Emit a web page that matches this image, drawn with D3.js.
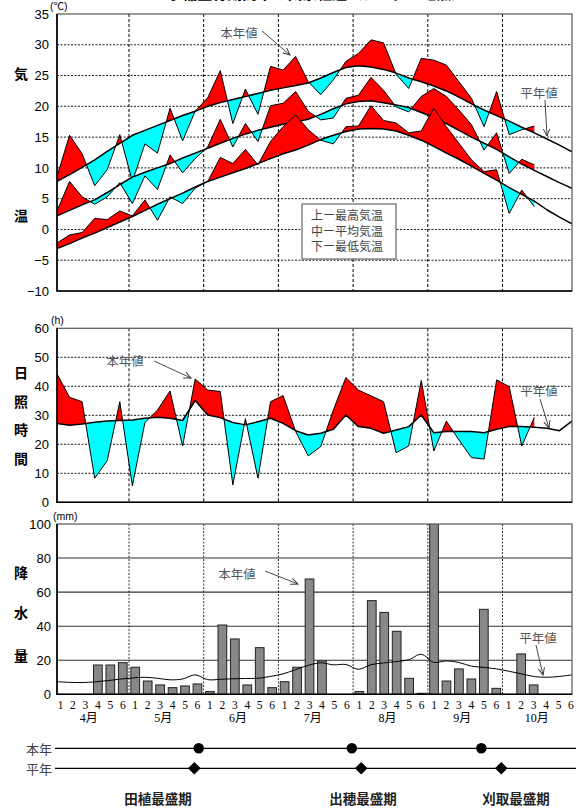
<!DOCTYPE html>
<html>
<head>
<meta charset="utf-8">
<script src="https://cdn.jsdelivr.net/npm/d3@7"></script>
<style>
  body { margin: 0; background: #fff; }
  svg { display: block; font-family: 'Liberation Sans', Arial, 'Noto Sans CJK JP', sans-serif; }
</style>
</head>
<body>
<div id="chart-area"></div>
<script>
//pentads: 6 per month, april to october (42 in all)
let months = ['4月', '5月', '6月', '7月', '8月', '9月', '10月'];
let pentadLabels = ['1', '2', '3', '4', '5', '6'];

//temperature (℃), this year up to oct 3rd pentad, normals for the whole season
let maxNow = [8.6, 15.3, 12.3, 7.1, 9.7, 15.4, 7.8, 13.9, 12.4, 19.7, 14.4, 19.2, 21.4, 25.8, 17.2, 22.8, 18.7, 26.5, 25.9, 28.1,
  24.0, 21.9, 24.3, 27.3, 28.6, 30.8, 30.3, 25.2, 22.9, 27.8, 27.5, 26.7, 24.0, 21.3, 16.7, 22.4, 15.4, 16.2, 16.8];
let maxNormal = [7.8, 8.9, 10.1, 11.3, 12.7, 14.0, 15.3, 16.1, 16.9, 17.7, 18.5, 19.2, 20.0, 20.6, 21.1, 21.6, 22.1, 22.6, 23.0, 23.4,
  23.8, 24.6, 25.5, 26.3, 26.6, 26.4, 26.0, 25.4, 24.6, 24.0, 23.3, 22.5, 21.5, 20.4, 19.4, 18.5, 17.6, 16.6, 15.7, 14.7, 13.7, 12.6];
let meanNow = [3.0, 7.8, 5.3, 4.1, 5.3, 7.6, 4.2, 8.7, 6.5, 12.1, 9.2, 11.5, 13.4, 17.9, 13.4, 17.2, 14.3, 20.1, 20.5, 22.4,
  19.2, 17.8, 18.1, 21.3, 21.8, 24.7, 22.6, 19.9, 19.1, 21.6, 22.9, 21.6, 19.4, 17.0, 12.9, 15.7, 9.1, 11.4, 10.5];
let meanNormal = [2.2, 3.1, 4.0, 4.8, 6.0, 7.3, 8.5, 9.3, 10.0, 10.7, 11.6, 12.4, 13.2, 14.0, 14.8, 15.5, 16.1, 16.6, 17.1, 17.5,
  17.9, 18.7, 19.6, 20.4, 20.8, 20.9, 20.6, 20.2, 19.8, 19.0, 18.2, 17.2, 16.1, 15.0, 14.0, 13.0, 11.8, 10.6, 9.6, 8.6, 7.6, 6.7];
let minNow = [-2.2, -0.9, -0.5, 1.8, 1.6, 3.0, 2.2, 4.8, 1.5, 5.3, 4.2, 6.7, 7.8, 11.7, 10.7, 13.0, 10.5, 14.3, 16.7, 18.6,
  16.2, 14.5, 13.9, 16.7, 16.8, 20.1, 17.7, 17.3, 15.7, 16.0, 19.7, 16.7, 14.0, 11.3, 9.4, 9.7, 2.6, 6.4, 3.7];
let minNormal = [-3.1, -2.3, -1.4, -0.6, 0.3, 1.2, 2.1, 3.1, 4.1, 5.0, 5.9, 6.9, 7.8, 8.5, 9.2, 9.9, 10.7, 11.5, 12.3, 12.9,
  13.7, 14.6, 15.3, 15.9, 16.3, 16.4, 16.3, 16.0, 15.3, 14.5, 13.5, 12.4, 11.4, 10.3, 9.1, 8.0, 6.8, 5.7, 4.6, 3.2, 2.0, 0.9];

//sunshine hours (h)
let sunNow = [44.3, 36.2, 34.7, 8.3, 14.4, 34.7, 5.7, 27.5, 31.8, 38.4, 19.4, 42.5, 38.7, 38.2, 6.0, 28.8, 8.3, 34.7, 36.8, 24.4,
  16.0, 19.2, 31.8, 43.0, 38.7, 36.7, 34.7, 17.1, 19.4, 42.0, 17.7, 28.0, 21.5, 15.4, 14.9, 42.2, 39.9, 19.4, 29.3];
let sunNormal = [27.2, 26.6, 27.0, 27.6, 28.0, 28.2, 28.4, 29.0, 29.3, 29.0, 28.2, 35.1, 30.1, 29.2, 27.5, 26.7, 27.8, 29.0, 27.2, 24.7,
  23.2, 23.8, 25.2, 30.1, 26.1, 25.5, 23.8, 24.9, 26.1, 30.1, 24.0, 24.4, 24.4, 24.4, 24.0, 25.2, 26.1, 26.1, 25.9, 25.5, 24.7, 28.0];

//precipitation (mm), sep 1st pentad is off the scale
let rainNow = [0, 0, 0, 17.2, 17.2, 18.6, 15.9, 7.8, 5.5, 3.9, 4.9, 6.1, 1.6, 40.7, 32.5, 5.5, 27.4, 3.9, 7.4, 15.9,
  67.7, 19.6, 0, 0, 1.6, 55.0, 48.1, 37.0, 9.4, 0.6, 125, 7.8, 14.9, 9.0, 49.9, 3.5, 0, 23.7, 5.5];
let rainNormal = [7.4, 7.0, 6.9, 7.3, 8.0, 8.9, 9.6, 10.0, 9.4, 8.5, 9.0, 11.4, 8.6, 8.8, 9.1, 9.3, 9.4, 10.5, 12.0, 14.5,
  17.0, 18.5, 17.3, 17.5, 14.7, 17.4, 18.4, 19.2, 20.3, 23.5, 18.8, 19.6, 18.7, 16.5, 15.8, 14.9, 13.5, 12.0, 10.4, 10.0, 10.5, 11.4];

//crop stages, as pentad position (0 = apr 1st pentad)
let stageNames = ['田植最盛期', '出穂最盛期', '刈取最盛期'];
let stageNow = [11.1, 23.4, 33.8];
let stageNormal = [10.75, 24.15, 35.4];

let width = 576;
let height = 810;
let left = 57;
let right = 572;
let jp = "'Noto Sans CJK JP', sans-serif";

let svg = d3.select('#chart-area').append('svg').attr('width', width).attr('height', height);
let defs = svg.append('defs');
defs
  .append('marker')
  .attr('id', 'arrow')
  .attr('viewBox', '0 0 10 10')
  .attr('refX', 9)
  .attr('refY', 5)
  .attr('markerWidth', 8)
  .attr('markerHeight', 8)
  .attr('markerUnits', 'userSpaceOnUse')
  .attr('orient', 'auto')
  .append('path')
  .attr('d', 'M0,1 L9,5 L0,9')
  .attr('fill', 'none')
  .attr('stroke', '#333')
  .attr('stroke-width', 1.2);

//x scales: points for lines, bands for the rain columns and month dividers
let xPt = d3.scaleLinear().domain([0, 41]).range([left, right]);
let xCol = d3.scaleBand().domain(d3.range(42)).range([54.3, 577.2]).paddingInner(0.3).paddingOuter(0.15);
let monthEdge = (k) => xCol(0) - (xCol.step() * xCol.paddingInner()) / 2 + k * 6 * xCol.step();
let xMid = (p) => xCol(0) + xCol.bandwidth() / 2 + p * xCol.step();

//title, cut off by the top edge
svg
  .append('text')
  .attr('x', 317)
  .attr('y', -1.5)
  .attr('text-anchor', 'middle')
  .attr('font-family', jp)
  .attr('font-weight', 'bold')
  .attr('font-size', 15)
  .text('水稲生育期間中の気象経過（アメダス地点）');

function makePanel(cfg) {
  let y = d3.scaleLinear().domain(cfg.domain).range([cfg.bottom, cfg.top]);
  let g = svg.append('g');
  let clipId = cfg.id + '-clip';
  defs
    .append('clipPath')
    .attr('id', clipId)
    .append('rect')
    .attr('x', left)
    .attr('y', cfg.top)
    .attr('width', right - left)
    .attr('height', cfg.bottom - cfg.top);

  //horizontal grid
  g.append('g')
    .selectAll('line')
    .data(cfg.ticks.filter((t) => t > cfg.domain[0] && t < cfg.domain[1]))
    .enter()
    .append('line')
    .attr('x1', left)
    .attr('x2', right)
    .attr('y1', (d) => y(d))
    .attr('y2', (d) => y(d))
    .attr('stroke', cfg.solidGrid ? '#333' : '#000')
    .attr('stroke-width', cfg.solidGrid ? 1.1 : 0.9)
    .attr('stroke-dasharray', cfg.solidGrid ? null : '2,1.5');

  //month dividers
  g.append('g')
    .selectAll('line')
    .data(d3.range(1, 7))
    .enter()
    .append('line')
    .attr('x1', (k) => monthEdge(k))
    .attr('x2', (k) => monthEdge(k))
    .attr('y1', cfg.top)
    .attr('y2', cfg.bottom)
    .attr('stroke', '#000')
    .attr('stroke-width', cfg.solidGrid ? 0.8 : 1)
    .attr('stroke-dasharray', cfg.solidGrid ? '2,1.5' : '3,2');

  //y axis labels
  g.append('g')
    .attr('transform', `translate(${left},0)`)
    .call(d3.axisLeft(y).tickValues(cfg.ticks).tickSize(0).tickPadding(cfg.pad || 8))
    .call((a) => a.select('.domain').remove())
    .selectAll('text')
    .attr('font-size', 13)
    .attr('font-family', "'Liberation Sans', Arial, sans-serif")
    .attr('fill', '#000');

  //unit
  g.append('text')
    .attr('x', cfg.unitX)
    .attr('y', cfg.top - 4)
    .attr('font-size', 10.5)
    .attr('fill', '#000')
    .text(cfg.unit);

  //vertical axis title, one character per row
  g.append('g')
    .selectAll('text')
    .data(cfg.title)
    .enter()
    .append('text')
    .attr('x', 21)
    .attr('y', (d, i) => cfg.titleY[i])
    .attr('text-anchor', 'middle')
    .attr('dominant-baseline', 'central')
    .attr('font-family', jp)
    .attr('font-weight', 'bold')
    .attr('font-size', 14)
    .text((d) => d);

  let plot = g.append('g').attr('clip-path', `url(#${clipId})`);
  return { g, plot, y, cfg };
}

function frame(p) {
  let { g, cfg } = p;
  g.append('rect')
    .attr('x', left)
    .attr('y', cfg.top)
    .attr('width', right - left)
    .attr('height', cfg.bottom - cfg.top)
    .attr('fill', 'none')
    .attr('stroke', '#555')
    .attr('stroke-width', 1.2);
  g.append('path')
    .attr('d', `M${left},${cfg.top}V${cfg.bottom}H${right}`)
    .attr('fill', 'none')
    .attr('stroke', '#000')
    .attr('stroke-width', 1.6);
}

//red where this year is above normal, cyan where below
function anomaly(p, now, normal, key) {
  let { plot, y, cfg } = p;
  let idx = d3.range(now.length);
  let all = d3.range(normal.length);
  let between = d3
    .area()
    .x((i) => xPt(i))
    .y0((i) => y(normal[i]))
    .y1((i) => y(now[i]));
  let above = d3
    .area()
    .x((i) => xPt(i))
    .y0(cfg.top - 5)
    .y1((i) => y(normal[i]));
  let below = d3
    .area()
    .x((i) => xPt(i))
    .y0(cfg.bottom + 5)
    .y1((i) => y(normal[i]));
  defs.append('clipPath').attr('id', key + '-up').append('path').attr('d', above(all));
  defs.append('clipPath').attr('id', key + '-dn').append('path').attr('d', below(all));
  plot
    .append('path')
    .attr('d', between(idx))
    .attr('fill', '#ff0000')
    .attr('clip-path', `url(#${key}-up)`);
  plot
    .append('path')
    .attr('d', between(idx))
    .attr('fill', '#00ffff')
    .attr('clip-path', `url(#${key}-dn)`);
  plot
    .append('path')
    .attr('d', d3.line().x((i) => xPt(i)).y((i) => y(now[i]))(idx))
    .attr('fill', 'none')
    .attr('stroke', '#000')
    .attr('stroke-width', 1)
    .attr('stroke-linejoin', 'round');
  plot
    .append('path')
    .attr('d', d3.line().x((i) => xPt(i)).y((i) => y(normal[i]))(all))
    .attr('fill', 'none')
    .attr('stroke', '#000')
    .attr('stroke-width', 1.5)
    .attr('stroke-linejoin', 'round');
}

function note(text, tx, ty, from, to) {
  svg
    .append('text')
    .attr('x', tx)
    .attr('y', ty)
    .attr('text-anchor', 'middle')
    .attr('dominant-baseline', 'central')
    .attr('font-family', jp)
    .attr('font-size', 12.5)
    .attr('fill', '#555')
    .text(text);
  svg
    .append('line')
    .attr('x1', from[0])
    .attr('y1', from[1])
    .attr('x2', to[0])
    .attr('y2', to[1])
    .attr('stroke', '#333')
    .attr('stroke-width', 0.9)
    .attr('marker-end', 'url(#arrow)');
}

//temperature
let temp = makePanel({
  id: 'temp',
  top: 14,
  bottom: 291,
  domain: [-10, 35],
  ticks: d3.range(-10, 36, 5),
  unit: '(℃)',
  unitX: 50,
  title: ['気', '温'],
  titleY: [73, 215],
});
anomaly(temp, maxNow, maxNormal, 'tmax');
anomaly(temp, meanNow, meanNormal, 'tmean');
anomaly(temp, minNow, minNormal, 'tmin');
frame(temp);

//legend box
let legendRows = ['上ー最高気温', '中ー平均気温', '下ー最低気温'];
let legend = svg.append('g').attr('transform', 'translate(302,204)');
legend.append('rect').attr('width', 94).attr('height', 55).attr('fill', '#fff').attr('stroke', '#666').attr('stroke-width', 1.2);
legend
  .selectAll('text')
  .data(legendRows)
  .enter()
  .append('text')
  .attr('x', 9)
  .attr('y', (d, i) => 16 + i * 15.5)
  .attr('font-family', jp)
  .attr('font-size', 12)
  .attr('fill', '#444')
  .text((d) => d);

//sunshine
let sun = makePanel({
  id: 'sun',
  top: 328.3,
  bottom: 502.3,
  domain: [0, 60],
  ticks: d3.range(0, 61, 10),
  unit: '(h)',
  unitX: 51,
  title: ['日', '照', '時', '間'],
  titleY: [372, 401, 429, 458],
});
anomaly(sun, sunNow, sunNormal, 'sun');
frame(sun);

//precipitation
let rain = makePanel({
  id: 'rain',
  top: 524,
  bottom: 694.3,
  domain: [0, 100],
  ticks: d3.range(0, 101, 20),
  unit: '(mm)',
  unitX: 53,
  pad: 6,
  solidGrid: true,
  title: ['降', '水', '量'],
  titleY: [572, 612, 655],
});
rain.plot
  .append('g')
  .selectAll('rect')
  .data(rainNow.map((v, i) => ({ i, v })).filter((d) => d.v > 0))
  .enter()
  .append('rect')
  .attr('x', (d) => xCol(d.i))
  .attr('width', xCol.bandwidth())
  .attr('y', (d) => rain.y(d.v))
  .attr('height', (d) => rain.y(0) - rain.y(d.v))
  .attr('fill', '#888')
  .attr('stroke', '#222')
  .attr('stroke-width', 1);
rain.plot
  .append('path')
  .attr('d', d3.line().x((d, i) => xPt(i)).y((d) => rain.y(d)).curve(d3.curveCatmullRom)(rainNormal))
  .attr('fill', 'none')
  .attr('stroke', '#000')
  .attr('stroke-width', 1);
frame(rain);

//pentad and month labels
svg
  .append('g')
  .selectAll('text')
  .data(d3.range(42))
  .enter()
  .append('text')
  .attr('x', (i) => xCol(i) + xCol.bandwidth() / 2)
  .attr('y', 705)
  .attr('text-anchor', 'middle')
  .attr('dominant-baseline', 'central')
  .attr('font-family', "'Liberation Serif', serif")
  .attr('font-size', 11.5)
  .text((i) => pentadLabels[i % 6]);
svg
  .append('g')
  .selectAll('text')
  .data(months)
  .enter()
  .append('text')
  .attr('x', (d, k) => (monthEdge(k) + monthEdge(k + 1)) / 2 - 3)
  .attr('y', 718)
  .attr('text-anchor', 'middle')
  .attr('dominant-baseline', 'central')
  .attr('font-family', "'Liberation Serif', 'Noto Sans CJK JP', serif")
  .attr('font-size', 12)
  .text((d) => d);

//annotations
note('本年値', 239, 32, [262, 31], [290, 55]);
note('平年値', 539, 92, [545, 100], [547, 136]);
note('本年値', 125, 360, [154, 361], [191, 378]);
note('平年値', 539, 390, [540, 399], [549, 428]);
note('本年値', 237, 573, [265, 571], [298, 584]);
note('平年値', 538, 637, [536, 645], [543, 675]);

//crop stage timeline
let rows = [
  { label: '本年', y: 748.3, pos: stageNow, symbol: d3.symbol(d3.symbolCircle, 88), rotate: 0 },
  { label: '平年', y: 768.3, pos: stageNormal, symbol: d3.symbol(d3.symbolSquare, 80), rotate: 45 },
];
let timeline = svg.append('g');
rows.forEach((row) => {
  timeline
    .append('line')
    .attr('x1', 55)
    .attr('x2', width)
    .attr('y1', row.y)
    .attr('y2', row.y)
    .attr('stroke', '#000')
    .attr('stroke-width', 1.3);
  timeline
    .append('text')
    .attr('x', 52)
    .attr('y', row.y)
    .attr('text-anchor', 'end')
    .attr('dominant-baseline', 'central')
    .attr('font-family', jp)
    .attr('font-size', 13)
    .attr('fill', '#444')
    .text(row.label);
  timeline
    .append('g')
    .selectAll('path')
    .data(row.pos)
    .enter()
    .append('path')
    .attr('d', row.symbol)
    .attr('transform', (d) => `translate(${xMid(d)},${row.y}) rotate(${row.rotate})`)
    .attr('fill', '#000');
});
let stageLabelX = [158, 363, 516];
timeline
  .append('g')
  .selectAll('text')
  .data(stageNames)
  .enter()
  .append('text')
  .attr('x', (d, i) => stageLabelX[i])
  .attr('y', 798)
  .attr('text-anchor', 'middle')
  .attr('dominant-baseline', 'central')
  .attr('font-family', jp)
  .attr('font-weight', 'bold')
  .attr('font-size', 13.5)
  .attr('fill', '#222')
  .text((d) => d);
</script>
</body>
</html>
